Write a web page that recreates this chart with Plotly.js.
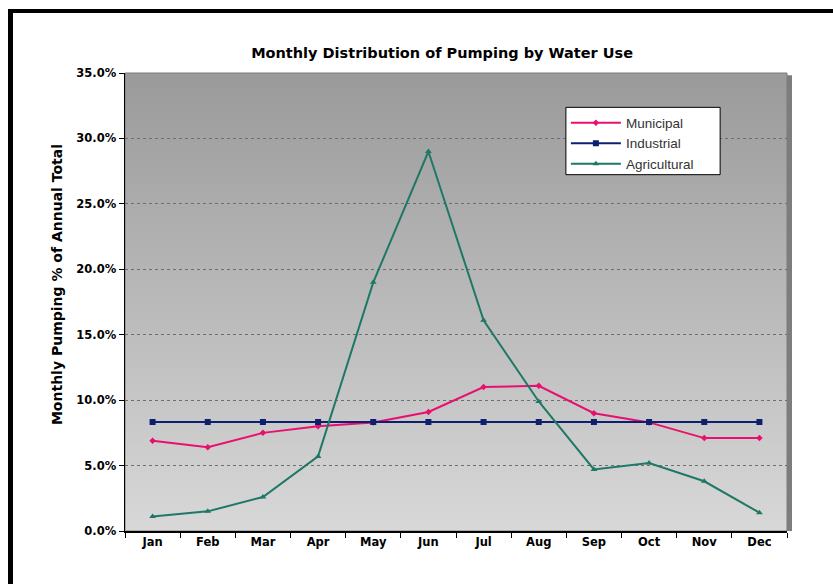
<!DOCTYPE html>
<html>
<head>
<meta charset="utf-8">
<script src="https://cdn.plot.ly/plotly-3.0.1.min.js"></script>
<style>
  html, body { margin: 0; padding: 0; background: #ffffff; }
  #wrap { position: relative; width: 833px; height: 584px; }
  #chart { width: 833px; height: 584px; }
  #frame { position: absolute; left: 8px; top: 9px; width: 830px; height: 580px;
           border-left: 5px solid #000; border-top: 4px solid #000; pointer-events: none; }
</style>
</head>
<body>
<div id="wrap">
  <div id="chart"></div>
  <div id="frame"></div>
</div>
<script>
const months = ["Jan","Feb","Mar","Apr","May","Jun","Jul","Aug","Sep","Oct","Nov","Dec"];
const municipal = [0.069, 0.064, 0.075, 0.080, 0.083, 0.091, 0.110, 0.111, 0.090, 0.083, 0.071, 0.071];
const industrial = [0.0833, 0.0833, 0.0833, 0.0833, 0.0833, 0.0833, 0.0833, 0.0833, 0.0833, 0.0833, 0.0833, 0.0833];
const agricultural = [0.011, 0.015, 0.026, 0.057, 0.190, 0.290, 0.161, 0.099, 0.047, 0.052, 0.038, 0.014];
const yTicks = [0, 0.05, 0.10, 0.15, 0.20, 0.25, 0.30, 0.35];
const yTitle = "Monthly Pumping % of Annual Total";

const FAM = "DejaVu Sans, Liberation Sans, Arial, sans-serif";
const tickFont = {family: FAM, size: 11.5, color: "#000", weight: "bold"};

const traces = [
  {x: months, y: municipal, name: "Municipal", type: "scatter", mode: "lines+markers",
   line: {color: "#e8106e", width: 2}, marker: {symbol: "diamond", size: 5, color: "#e8106e"}},
  {x: months, y: industrial, name: "Industrial", type: "scatter", mode: "lines+markers",
   line: {color: "#0d1f6e", width: 2}, marker: {symbol: "square", size: 6, color: "#0d1f6e"}},
  {x: months, y: agricultural, name: "Agricultural", type: "scatter", mode: "lines+markers",
   line: {color: "#1f7866", width: 2}, marker: {symbol: "triangle-up", size: 6, color: "#1f7866"}}
];

const svgGrad = '<svg xmlns="http://www.w3.org/2000/svg" width="100" height="100" preserveAspectRatio="none">' +
  '<defs><linearGradient id="g" x1="0" y1="0" x2="0" y2="1">' +
  '<stop offset="0" stop-color="#9a9a9a"/><stop offset="1" stop-color="#d8d8d8"/></linearGradient></defs>' +
  '<rect width="100" height="100" fill="url(#g)"/></svg>';
const gradSrc = "data:image/svg+xml;base64," + btoa(svgGrad);

const layout = {
  width: 833, height: 584,
  margin: {l: 125, r: 46, t: 73, b: 53},
  paper_bgcolor: "#ffffff",
  plot_bgcolor: "rgba(0,0,0,0)",
  showlegend: true,
  title: {text: "Monthly Distribution of Pumping by Water Use",
          font: {family: FAM, size: 14.5, color: "#000", weight: "bold"},
          x: 0.479, xref: "paper", xanchor: "center", y: 0.91, yref: "container", yanchor: "middle"},
  xaxis: {
    type: "category", range: [-0.5, 11.5], tickson: "boundaries",
    ticks: "outside", ticklen: 5, tickcolor: "#000",
    showline: true, linecolor: "#000", linewidth: 1.5,
    showgrid: false, zeroline: false,
    tickfont: tickFont, fixedrange: true
  },
  yaxis: {
    range: [0, 0.35], tickvals: yTicks, tickformat: ".1%",
    ticks: "outside", ticklen: 5, tickcolor: "#000",
    showline: true, linecolor: "#000", linewidth: 1.5,
    showgrid: true, gridcolor: "#6e6e6e", gridwidth: 1, griddash: "dot",
    zeroline: false, tickfont: tickFont,
    fixedrange: true
  },
  annotations: [{text: yTitle, textangle: -90, showarrow: false,
    xref: "paper", yref: "paper", x: -0.1027, y: 0.537, xanchor: "center", yanchor: "middle",
    font: {family: FAM, size: 14, color: "#000", weight: "bold"}}],
  legend: {
    x: 0.666, y: 0.925, xanchor: "left", yanchor: "top",
    bgcolor: "rgba(0,0,0,0)", borderwidth: 0,
    font: {family: "Liberation Sans, Arial, sans-serif", size: 13.5, color: "#333"},
    itemwidth: 50, tracegroupgap: 0
  },
  images: [{source: gradSrc, xref: "paper", yref: "paper", x: 0, y: 1, sizex: 1, sizey: 1,
            xanchor: "left", yanchor: "top", sizing: "stretch", layer: "below"}],
  shapes: [
    {type: "rect", xref: "paper", yref: "paper", x0: 0, x1: 1, y0: 0, y1: 1,
     line: {color: "#7a7a7a", width: 1}, layer: "below"},
    {type: "rect", xref: "paper", yref: "paper", xsizemode: "pixel", xanchor: 1,
     x0: 0, x1: 5, y0: 0, y1: 0.995, fillcolor: "#7d7d7d", line: {width: 0}, layer: "above"},
    {type: "rect", xref: "paper", yref: "paper", x0: 0.666, x1: 0.899, y0: 0.778, y1: 0.925,
     fillcolor: "#ffffff", line: {color: "#000", width: 1}, layer: "above"}
  ]
};

Plotly.newPlot("chart", traces, layout, {displayModeBar: false, staticPlot: true});
</script>
</body>
</html>
